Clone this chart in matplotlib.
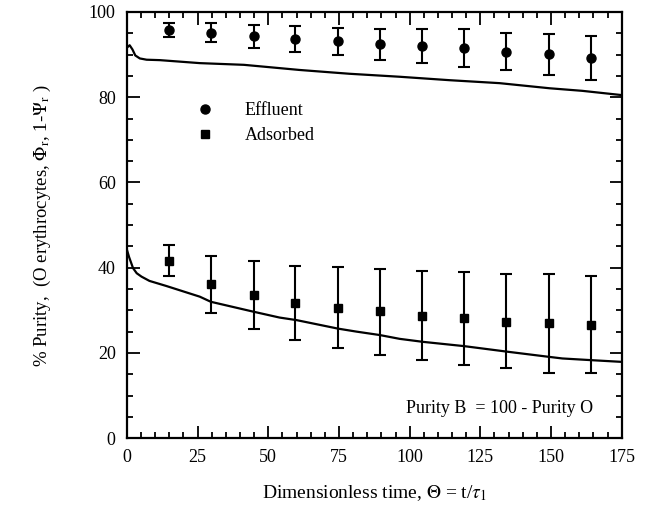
import numpy as np
import matplotlib.pyplot as plt

plt.rcParams['font.family'] = ['Liberation Serif', 'DejaVu Serif']
plt.rcParams['mathtext.fontset'] = 'stix'

# Experimental points (mean and error bar ends)
theta_pts = [15.0, 29.8, 44.8, 59.6, 74.5, 89.4, 104.5, 119.2, 134.2, 149.2, 164.2]
effluent = [95.8, 95.0, 94.4, 93.6, 93.2, 92.4, 92.1, 91.6, 90.7, 90.1, 89.3]
effluent_hi = [97.5, 97.5, 96.9, 96.7, 96.3, 95.9, 95.9, 95.9, 95.1, 94.8, 94.4]
effluent_lo = [94.2, 93.0, 91.5, 90.7, 89.9, 88.7, 88.1, 87.2, 86.4, 85.2, 84.0]
adsorbed = [41.5, 36.1, 33.6, 31.6, 30.6, 29.8, 28.6, 28.2, 27.3, 27.1, 26.5]
adsorbed_hi = [45.3, 42.8, 41.5, 40.4, 40.1, 39.6, 39.3, 39.0, 38.5, 38.5, 38.0]
adsorbed_lo = [38.0, 29.3, 25.5, 23.0, 21.1, 19.5, 18.3, 17.1, 16.4, 15.4, 15.2]

# Model curves
theta_eff_line = [0, 1, 2, 3, 4.6, 7, 11.7, 25.8, 41.4, 61, 72.8, 78.8, 96.5, 114, 131.8, 149.5, 161, 175]
eff_line = [91.6, 92.2, 91.2, 89.8, 89.1, 88.8, 88.7, 88.0, 87.6, 86.4, 85.8, 85.5, 84.8, 84.0, 83.3,
            82.1, 81.5, 80.5]
theta_ads_line = [0, 0.8, 2.2, 3.5, 5.2, 8, 14, 25.8, 29.7, 44.6, 54, 60, 74.7, 81.2, 89.4, 96.5, 104.7,
                  119.2, 134.4, 149, 154, 164.3, 175]
ads_line = [44.3, 42.5, 39.9, 38.7, 37.9, 36.9, 35.7, 33.2, 32.0, 29.7, 28.3, 27.7, 25.7, 25.0, 24.2,
            23.3, 22.6, 21.6, 20.3, 19.1, 18.7, 18.3, 17.9]

fig = plt.figure(figsize=(6.47, 5.21), dpi=100)
ax = fig.add_axes([0.196, 0.159, 0.765, 0.818])

ax.plot(theta_eff_line, eff_line, color='black', lw=1.6)
ax.plot(theta_ads_line, ads_line, color='black', lw=1.6)

eff = np.array(effluent)
ads = np.array(adsorbed)
eff_err = [eff - np.array(effluent_lo), np.array(effluent_hi) - eff]
ads_err = [ads - np.array(adsorbed_lo), np.array(adsorbed_hi) - ads]

ax.errorbar(theta_pts, effluent, yerr=eff_err, fmt='o', color='black', ms=6.5,
            capsize=4, elinewidth=1.5, capthick=1.5, label='Effluent')
ax.errorbar(theta_pts, adsorbed, yerr=ads_err, fmt='s', color='black', ms=6,
            capsize=4, elinewidth=1.5, capthick=1.5, label='Adsorbed')

# Legend: markers only
h1 = plt.Line2D([], [], marker='o', ls='none', color='black', ms=6.5)
h2 = plt.Line2D([], [], marker='s', ls='none', color='black', ms=6)
ax.legend([h1, h2], ['Effluent', 'Adsorbed'], loc='upper left',
          bbox_to_anchor=(0.107, 0.827), frameon=False, fontsize=13,
          handlelength=1, handletextpad=1.7, labelspacing=0.45)

ax.text(131.8, 7.0, 'Purity B  = 100 - Purity O', ha='center', va='center', fontsize=13)

ax.set_xlim(0, 175)
ax.set_ylim(0, 100)
ax.set_xticks(np.arange(0, 176, 25))
ax.set_xticks(np.arange(0, 176, 5), minor=True)
ax.set_yticks(np.arange(0, 101, 20))
ax.set_yticks(np.arange(0, 101, 5), minor=True)
ax.tick_params(which='both', direction='in', top=True, right=True, labelsize=13, width=1.3, pad=8)
ax.tick_params(which='major', length=9)
ax.tick_params(which='minor', length=4.5)
for s in ax.spines.values():
    s.set_linewidth(1.6)

ax.set_xlabel(r'Dimensionless time, $\Theta$ = t/$\tau_{\mathrm{1}}$', fontsize=14, labelpad=12)
ax.set_ylabel(r'% Purity,  (O erythrocytes, $\Phi_{\mathrm{r}}$, 1-$\Psi_{\mathrm{r}}$ )',
              fontsize=13.5, labelpad=26)

fig.savefig('out.png', dpi=100)
